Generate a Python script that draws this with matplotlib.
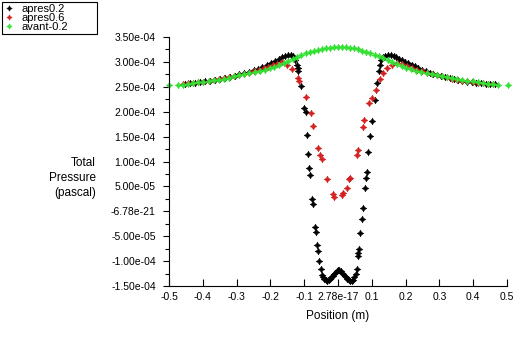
import matplotlib
matplotlib.use("Agg")
import matplotlib.pyplot as plt
from matplotlib.ticker import MultipleLocator
import numpy as np

plt.rcParams['font.family'] = ['Liberation Sans', 'DejaVu Sans']

# apres0.2 (black)
x_a02 = [-0.453, -0.438, -0.423, -0.408, -0.393, -0.378, -0.363, -0.348, -0.334, -0.320,
         -0.306, -0.292, -0.278, -0.264, -0.250, -0.237, -0.224, -0.211, -0.199, -0.187,
         -0.176, -0.166, -0.157, -0.148, -0.140, -0.133, -0.127, -0.122, -0.119, -0.117,
         -0.109, -0.101, -0.096, -0.091, -0.088, -0.085, -0.082, -0.077, -0.073, -0.068,
         -0.066, -0.061, -0.058, -0.055, -0.050, -0.048, -0.044, -0.040, -0.036, -0.032,
         -0.028, -0.024, -0.020, -0.016, -0.012, -0.008, -0.004, 0.000, 0.004, 0.008,
         0.012, 0.016, 0.020, 0.024, 0.028, 0.032, 0.036, 0.040, 0.044, 0.048,
         0.052, 0.055, 0.058, 0.060, 0.062, 0.065, 0.070, 0.073, 0.080, 0.083,
         0.085, 0.090, 0.095, 0.100, 0.110, 0.115, 0.120, 0.123, 0.127, 0.133,
         0.140, 0.149, 0.157, 0.165, 0.173, 0.181, 0.190, 0.199, 0.208, 0.218,
         0.228, 0.238, 0.249, 0.260, 0.271, 0.282, 0.294, 0.306, 0.318, 0.330,
         0.342, 0.355, 0.368, 0.381, 0.395, 0.409, 0.423, 0.437, 0.451, 0.465]
y_a02 = [2.56, 2.57, 2.58, 2.59, 2.61, 2.62, 2.64, 2.65, 2.67, 2.70,
         2.72, 2.75, 2.77, 2.80, 2.83, 2.86, 2.90, 2.94, 2.98, 3.02,
         3.06, 3.09, 3.12, 3.14, 3.14, 3.12, 3.03, 2.94, 2.87, 2.81,
         2.51, 2.07, 1.99, 1.54, 1.16, 0.86, 0.72, 0.24, 0.14, -0.31,
         -0.41, -0.68, -0.79, -0.99, -1.15, -1.27, -1.32, -1.36, -1.38, -1.39,
         -1.37, -1.35, -1.32, -1.29, -1.26, -1.23, -1.20, -1.18, -1.18, -1.20,
         -1.23, -1.26, -1.29, -1.32, -1.35, -1.37, -1.39, -1.39, -1.37, -1.32,
         -1.26, -1.16, -0.89, -0.83, -0.76, -0.44, -0.15, 0.06, 0.47, 0.67,
         0.79, 1.19, 1.52, 1.82, 2.24, 2.57, 2.81, 2.94, 3.03, 3.09,
         3.12, 3.14, 3.13, 3.11, 3.09, 3.06, 3.03, 3.00, 2.97, 2.94,
         2.91, 2.87, 2.84, 2.81, 2.78, 2.76, 2.74, 2.72, 2.70, 2.67,
         2.65, 2.63, 2.62, 2.60, 2.59, 2.58, 2.57, 2.56, 2.56, 2.55]

# apres0.6 (red)
x_a06 = [-0.458, -0.443, -0.428, -0.413, -0.398, -0.383, -0.368, -0.353, -0.338, -0.323,
         -0.308, -0.293, -0.278, -0.263, -0.248, -0.234, -0.220, -0.206, -0.193, -0.180,
         -0.167, -0.152, -0.137, -0.117, -0.114, -0.095, -0.081, -0.073, -0.058, -0.053,
         -0.048, -0.032, -0.014, -0.011, 0.011, 0.016, 0.026, 0.033, 0.036, 0.055,
         0.058, 0.075, 0.078, 0.093, 0.100, 0.112, 0.124, 0.134, 0.146, 0.159,
         0.174, 0.188, 0.203, 0.218, 0.233, 0.248, 0.263, 0.278, 0.293, 0.308,
         0.323, 0.338, 0.353, 0.368, 0.383, 0.398, 0.413, 0.428, 0.443, 0.458]
y_a06 = [2.56, 2.57, 2.58, 2.59, 2.60, 2.62, 2.63, 2.65, 2.67, 2.69,
         2.71, 2.73, 2.75, 2.78, 2.81, 2.84, 2.87, 2.90, 2.93, 2.96,
         2.99, 2.94, 2.85, 2.67, 2.61, 2.29, 1.97, 1.71, 1.27, 1.14,
         1.05, 0.64, 0.34, 0.29, 0.32, 0.36, 0.47, 0.64, 0.66, 1.14,
         1.24, 1.69, 1.84, 2.17, 2.27, 2.44, 2.65, 2.77, 2.87, 2.94,
         2.97, 2.95, 2.92, 2.88, 2.84, 2.81, 2.78, 2.76, 2.73, 2.71,
         2.69, 2.66, 2.64, 2.62, 2.61, 2.60, 2.58, 2.57, 2.56, 2.55]

# avant-0.2 (green)
x_av = [-0.500, -0.473, -0.458, -0.443, -0.428, -0.413, -0.398, -0.383, -0.368, -0.352,
        -0.337, -0.322, -0.307, -0.292, -0.277, -0.262, -0.247, -0.232, -0.217, -0.202,
        -0.188, -0.174, -0.160, -0.147, -0.134, -0.121, -0.108, -0.096, -0.084, -0.072,
        -0.060, -0.048, -0.036, -0.024, -0.012, 0.000, 0.012, 0.024, 0.036, 0.048,
        0.060, 0.072, 0.084, 0.096, 0.108, 0.121, 0.134, 0.147, 0.160, 0.174,
        0.188, 0.202, 0.217, 0.232, 0.247, 0.262, 0.277, 0.292, 0.307, 0.322,
        0.337, 0.352, 0.368, 0.383, 0.398, 0.413, 0.428, 0.443, 0.458, 0.473, 0.503]
y_av = [2.53, 2.53, 2.54, 2.55, 2.57, 2.59, 2.60, 2.61, 2.63, 2.64,
        2.66, 2.68, 2.71, 2.73, 2.75, 2.77, 2.79, 2.81, 2.84, 2.87,
        2.90, 2.94, 2.98, 3.02, 3.06, 3.10, 3.14, 3.17, 3.19, 3.21,
        3.23, 3.25, 3.27, 3.28, 3.29, 3.30, 3.30, 3.29, 3.28, 3.27,
        3.25, 3.22, 3.20, 3.17, 3.14, 3.11, 3.07, 3.03, 2.99, 2.95,
        2.91, 2.88, 2.85, 2.82, 2.80, 2.78, 2.76, 2.74, 2.72, 2.70,
        2.68, 2.66, 2.64, 2.62, 2.61, 2.59, 2.57, 2.56, 2.55, 2.54, 2.53]

xticks = [-0.5, -0.4, -0.3, -0.2, -0.1, 0.0, 0.1, 0.2, 0.3, 0.4, 0.5]
xticklabels = ['-0.5', '-0.4', '-0.3', '-0.2', '-0.1', '2.78e-17', '0.1', '0.2', '0.3', '0.4', '0.5']
yticks = [3.5e-4, 3.0e-4, 2.5e-4, 2.0e-4, 1.5e-4, 1.0e-4, 5.0e-5, 0.0, -5.0e-5, -1.0e-4, -1.5e-4]
yticklabels = ['3.50e-04', '3.00e-04', '2.50e-04', '2.00e-04', '1.50e-04', '1.00e-04',
               '5.00e-05', '-6.78e-21', '-5.00e-05', '-1.00e-04', '-1.50e-04']

fig = plt.figure(figsize=(5.21, 3.4), dpi=100)
ax = fig.add_axes([169/521, 54/340, 338/521, 249/340])

# 4-pointed star marker, like the original solver output
mk = dict(marker=(4, 1, 0), linestyle='none', markersize=5, markeredgewidth=0.3, clip_on=False)
ax.plot(x_a02, np.array(y_a02)*1e-4, color='black', label='apres0.2', **mk)
ax.plot(x_a06, np.array(y_a06)*1e-4, color='#d42020', label='apres0.6', **mk)
ax.plot(x_av, np.array(y_av)*1e-4, color='#33e033', label='avant-0.2', **mk)

ax.set_xlim(-0.5, 0.5)
ax.set_ylim(-1.5e-4, 3.5e-4)
ax.set_xticks(xticks)
ax.set_xticklabels(xticklabels)
ax.set_yticks(yticks)
ax.set_yticklabels(yticklabels)
ax.yaxis.set_minor_locator(MultipleLocator(2.5e-5))
ax.tick_params(axis='x', direction='in', length=5, width=0.8, labelsize=7.5, pad=4)
ax.tick_params(axis='y', which='major', direction='out', length=4.5, width=0.8, labelsize=7.5, pad=5)
ax.tick_params(axis='y', which='minor', direction='out', length=3, width=0.8)
for s in ['top', 'right']:
    ax.spines[s].set_visible(False)
for s in ['left', 'bottom']:
    ax.spines[s].set_linewidth(0.8)

ax.set_xlabel('Position (m)', fontsize=8.5, labelpad=6)
fig.text(96/521, 1 - 178/340, 'Total\nPressure\n(pascal)', ha='right', va='center',
         multialignment='right', fontsize=8.5, linespacing=1.3)

leg = fig.legend(loc='upper left', bbox_to_anchor=(2/521, 1 - 33/340, 95/521, 31/340),
                 mode='expand', fontsize=8, markerscale=0.8,
                 frameon=True, fancybox=False, edgecolor='black', framealpha=1,
                 handlelength=0.8, handletextpad=0.8, labelspacing=-0.1,
                 borderpad=0.2, borderaxespad=0)
leg.get_frame().set_linewidth(0.8)

fig.savefig('out.png', dpi=100)
